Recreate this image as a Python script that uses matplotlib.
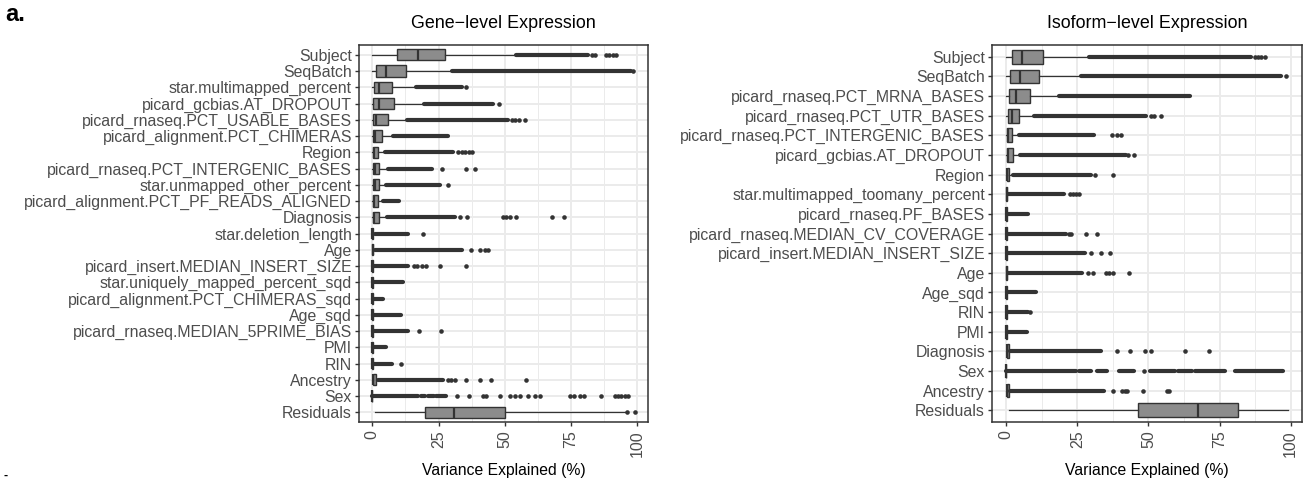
import matplotlib
matplotlib.use("Agg")
import matplotlib.pyplot as plt
from matplotlib.ticker import MultipleLocator

# ---- Gene-level panel (top to bottom) ----
gene_vars = ["Subject", "SeqBatch", "star.multimapped_percent",
             "picard_gcbias.AT_DROPOUT", "picard_rnaseq.PCT_USABLE_BASES",
             "picard_alignment.PCT_CHIMERAS", "Region",
             "picard_rnaseq.PCT_INTERGENIC_BASES", "star.unmapped_other_percent",
             "picard_alignment.PCT_PF_READS_ALIGNED", "Diagnosis",
             "star.deletion_length", "Age", "picard_insert.MEDIAN_INSERT_SIZE",
             "star.uniquely_mapped_percent_sqd", "picard_alignment.PCT_CHIMERAS_sqd",
             "Age_sqd", "picard_rnaseq.MEDIAN_5PRIME_BIAS", "PMI", "RIN",
             "Ancestry", "Sex", "Residuals"]
# whisker low, q1, median, q3, whisker high
gene_box = [(0, 9.2, 17.3, 27.6, 54.4), (0, 1.3, 5.2, 12.9, 29.9),
            (0, 0.6, 2.6, 7.3, 16.5), (0, 0.4, 2.5, 8.3, 19.5),
            (0, 0.4, 1.4, 5.8, 13.2), (0, 0.1, 1.0, 3.5, 7.7),
            (0, 0.1, 0.6, 2.3, 4.8), (0, 0.1, 1.0, 2.6, 5.8),
            (0, 0.1, 1.0, 2.5, 5.0), (0, 0.1, 0.6, 2.0, 4.1),
            (0, 0.1, 0.6, 2.6, 5.7), (0, 0, 0, 0.2, 1.0),
            (0, 0, 0.1, 0.4, 1.2), (0, 0, 0, 0.2, 0.8),
            (0, 0, 0, 0.2, 0.6), (0, 0, 0, 0.1, 0.4),
            (0, 0, 0, 0.2, 0.5), (0, 0, 0, 0.2, 0.6),
            (0, 0, 0, 0.1, 0.3), (0, 0, 0, 0.1, 0.4),
            (0, 0.1, 0.3, 1.3, 2.3), (0, 0, 0, 0, 0),
            (1.0, 19.8, 30.8, 50.2, 95.2)]
# runs of outliers so dense that they merge into a bar
gene_dense = [[(54.4, 81.4)], [(29.9, 97.7)], [(16.5, 33.7)], [(19.5, 45.6)],
              [(13.2, 51.3)], [(7.7, 28.4)], [(4.8, 30.5)], [(5.8, 22.7)],
              [(5.0, 25.5)], [(4.1, 10.0)], [(5.7, 31.2)], [(1.0, 13.6)],
              [(1.2, 33.7)], [(0.8, 13.6)], [(0.6, 11.7)], [(0.4, 4.1)],
              [(0.5, 11.0)], [(0.6, 13.6)], [(0.3, 5.0)], [(0.4, 7.3)],
              [(2.3, 26.8)], [(0, 17.3), (18.2, 20.0), (21.0, 23.2), (24.0, 27.9)],
              []]
gene_points = [[82.8, 84.0, 88.0, 89.4, 90.8, 92.0], [98.4], [35.3], [47.7],
               [52.8, 54.0, 55.2, 57.5], [], [32.4, 33.8, 35.0, 36.5, 37.8],
               [26.4, 35.2, 38.7], [28.6], [],
               [33.0, 35.8, 49.4, 50.4, 51.8, 54.2, 67.8, 72.4], [19.0],
               [37.4, 40.8, 42.5, 43.7], [15.8, 17.0, 18.8, 20.4, 25.5, 35.3],
               [], [], [], [17.6, 26.1], [], [11.0],
               [28.6, 29.6, 31.2, 35.3, 40.8, 44.6, 57.8],
               [31.8, 36.4, 41.8, 43.0, 48.0, 52.0, 54.0, 55.6, 58.8, 61.2, 63.2,
                74.5, 76.0, 78.2, 80.0, 86.4, 91.5, 92.8, 94.0, 95.2, 96.5],
               [96.2, 99.0]]

# ---- Isoform-level panel (top to bottom) ----
iso_vars = ["Subject", "SeqBatch", "picard_rnaseq.PCT_MRNA_BASES",
            "picard_rnaseq.PCT_UTR_BASES", "picard_rnaseq.PCT_INTERGENIC_BASES",
            "picard_gcbias.AT_DROPOUT", "Region", "star.multimapped_toomany_percent",
            "picard_rnaseq.PF_BASES", "picard_rnaseq.MEDIAN_CV_COVERAGE",
            "picard_insert.MEDIAN_INSERT_SIZE", "Age", "Age_sqd", "RIN", "PMI",
            "Diagnosis", "Sex", "Ancestry", "Residuals"]
iso_box = [(0, 2.1, 5.6, 13.1, 29.1), (0, 1.4, 5.0, 11.7, 26.2),
           (0, 0.9, 3.5, 8.2, 18.4), (0, 0.6, 2.1, 4.4, 9.9),
           (0, 0.2, 0.8, 2.1, 4.4), (0, 0.2, 0.8, 2.3, 4.7),
           (0, 0.1, 0.4, 1.0, 2.5), (0, 0, 0.1, 0.3, 0.8),
           (0, 0, 0, 0.2, 0.5), (0, 0, 0, 0.2, 0.6),
           (0, 0, 0, 0.2, 0.6), (0, 0, 0.1, 0.3, 0.6),
           (0, 0, 0, 0.2, 0.4), (0, 0, 0, 0.1, 0.4),
           (0, 0, 0, 0.1, 0.3), (0, 0.1, 0.3, 0.9, 1.5),
           (0, 0, 0, 0, 0), (0, 0.1, 0.3, 0.9, 1.5),
           (0.9, 46.2, 67.6, 81.6, 99.0)]
iso_dense = [[(29.1, 86.2)], [(26.2, 96.7)], [(18.4, 64.7)], [(9.9, 49.0)],
             [(4.4, 30.9)], [(4.7, 42.0)], [(2.5, 29.7)], [(0.8, 20.4)],
             [(0.5, 7.6)], [(0.6, 21.0)], [(0.6, 27.7)], [(0.6, 26.8)],
             [(0.4, 10.5)], [(0.4, 7.6)], [(0.3, 7.3)], [(1.5, 33.2)],
             [(0, 24.5), (25.6, 29.7), (32.0, 35.5), (39.6, 44.9), (50.7, 59.4),
              (60.4, 65.3), (66.4, 77.0), (80.4, 97.3)],
             [(1.5, 34.4)], []]
iso_points = [[87.5, 88.5, 89.7, 91.1], [98.5], [], [51.0, 51.8, 54.5],
              [37.1, 39.0, 40.2], [42.8, 44.9], [31.2, 37.5],
              [22.4, 23.5, 24.5, 25.6], [], [22.0, 22.9, 28.0, 31.8],
              [29.7, 33.2, 36.4], [28.6, 30.4, 35.0, 36.0, 37.5, 43.1], [],
              [8.4], [], [39.0, 43.5, 48.7, 51.0, 62.7, 71.4], [48.4],
              [37.5, 40.6, 41.6, 42.5, 48.0, 56.5, 57.3], []]

x_ticks = [0, 25, 50, 75, 100]

plt.rcParams["font.family"] = ["Liberation Sans", "DejaVu Sans"]
DARK = "#333333"
GRID = "#EBEBEB"


def draw_panel(ax, names, boxes, dense, points, title):
    n = len(names)
    pos = list(range(1, n + 1))
    stats = []
    for name, (lo, q1, med, q3, hi) in zip(names, boxes):
        stats.append(dict(label=name, whislo=lo, q1=q1, med=med, q3=q3,
                          whishi=hi, fliers=[]))
    ax.bxp(stats, positions=pos, orientation="horizontal", widths=0.7,
           patch_artist=True, showfliers=False, showcaps=False,
           boxprops=dict(facecolor="#8C8C8C", edgecolor=DARK, linewidth=1.0),
           medianprops=dict(color=DARK, linewidth=1.6),
           whiskerprops=dict(color=DARK, linewidth=0.9), zorder=3)
    for p, runs, pts in zip(pos, dense, points):
        for a, b in runs:
            ax.plot([a, b], [p, p], color=DARK, lw=3.0,
                    solid_capstyle="round", zorder=4)
        if pts:
            ax.plot(pts, [p] * len(pts), "o", color=DARK, ms=3.3,
                    mec="none", zorder=4)

    ax.set_xlim(-5, 104)
    ax.set_ylim(n + 0.6, 0.4)
    ax.set_yticks(pos)
    ax.set_yticklabels(names)
    ax.set_xticks(x_ticks)
    ax.set_xticklabels([str(t) for t in x_ticks], rotation=90, va="top")
    ax.xaxis.set_minor_locator(MultipleLocator(12.5))
    ax.grid(which="major", color=GRID, lw=1.4, zorder=0)
    ax.grid(which="minor", axis="x", color=GRID, lw=0.7, zorder=0)
    ax.set_axisbelow(True)
    ax.tick_params(axis="both", which="major", length=3, width=1.0,
                   color=DARK, labelcolor="#4D4D4D", pad=2)
    ax.tick_params(axis="y", labelsize=11.4)
    ax.tick_params(axis="x", labelsize=11.5, pad=3)
    ax.tick_params(which="minor", length=0)
    for s in ax.spines.values():
        s.set_color(DARK)
        s.set_linewidth(1.1)

    box = ax.get_position()
    cx = box.x0 + box.width / 2
    fig.text(cx, 1 - 24 / 482, title, ha="center", va="center", fontsize=12.9)
    fig.text(cx, 1 - 470 / 482, "Variance Explained (%)", ha="center",
             va="center", fontsize=11.3)


fig = plt.figure(figsize=(13.03, 4.82), dpi=100)
ax1 = fig.add_axes([359 / 1303, 1 - 422 / 482, 289 / 1303, 377 / 482])
ax2 = fig.add_axes([992 / 1303, 1 - 422 / 482, 310 / 1303, 377 / 482])

draw_panel(ax1, gene_vars, gene_box, gene_dense, gene_points,
           "Gene\u2212level Expression")
draw_panel(ax2, iso_vars, iso_box, iso_dense, iso_points,
           "Isoform\u2212level Expression")

fig.text(0.004, 0.993, "a.", ha="left", va="top", fontsize=17, fontweight="bold")
fig.text(0.003, 0.0, "-", ha="left", va="bottom", fontsize=9, fontweight="bold")

fig.savefig("out.png", dpi=100)
